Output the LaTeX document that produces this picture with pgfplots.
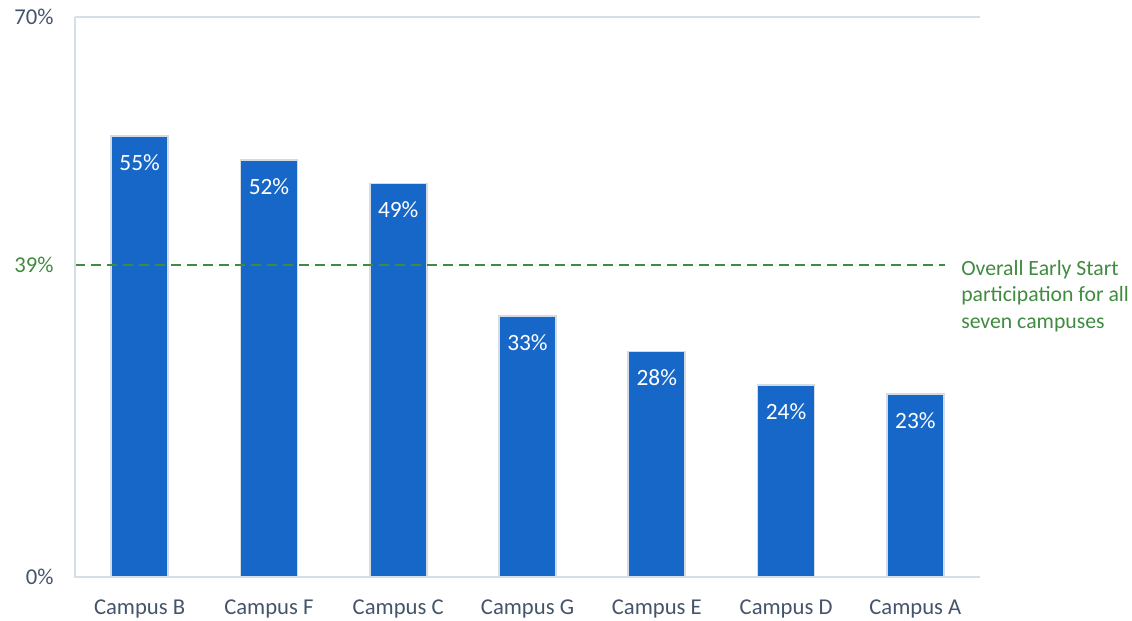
\documentclass[border=0pt]{standalone}
\usepackage{pgfplots}
\pgfplotsset{compat=1.18}
\usepackage{fontspec}
\setmainfont{Carlito}
\definecolor{barblue}{HTML}{1767C8}
\definecolor{baredge}{HTML}{D3DCE5}
\definecolor{axcol}{HTML}{D6DEE6}
\definecolor{txtcol}{HTML}{44546A}
\definecolor{refgreen}{HTML}{3F8B3F}
\begin{document}
\begin{tikzpicture}[x=1pt,y=1pt]
\path[use as bounding box] (-56.25,-33) rectangle ++(849,465.75);
\begin{axis}[
  at={(0,0)}, anchor=south west,
  scale only axis, width=678.75pt, height=420pt,
  xmin=-0.5, xmax=6.5, ymin=0, ymax=70,
  axis line style={draw=none},
  xtick={0,...,6},
  xticklabels={Campus B,Campus F,Campus C,Campus G,Campus E,Campus D,Campus A},
  ytick={0,39,70},
  yticklabels={0\%,\textcolor{refgreen}{39\%},70\%},
  major tick length=0pt,
  tick label style={font=\fontsize{17}{19}\selectfont, text=txtcol},
  xticklabel style={yshift=-13.5pt},
  yticklabel style={xshift=-12.5pt},
  clip=false,
]
\addplot[ybar, bar width=42.75pt, fill=barblue, draw=baredge, line width=1.2pt,
  point meta=explicit symbolic,
  nodes near coords={\pgfplotspointmeta\%},
  every node near coord/.append style={anchor=north, yshift=-10pt, text=white, font=\fontsize{17.5}{19}\selectfont}]
  table[meta=l] {
  x y l
  0 55.1 55
  1 52.1 52
  2 49.2 49
  3 32.6 33
  4 28.2 28
  5 24.0 24
  6 22.9 23
  };
\addplot[refgreen, line width=1.7pt, dash pattern=on 7.5pt off 4.5pt] coordinates {(-0.5,39) (6.23,39)};
\draw[axcol, line width=1pt] (rel axis cs:0,1) -- (rel axis cs:0,0) -- (rel axis cs:1,0);
\draw[axcol, line width=1pt] (rel axis cs:0,1) -- (rel axis cs:1,1);
\node[anchor=north west, inner sep=0pt, align=left, text=refgreen, font=\fontsize{16.3}{19.8}\selectfont]
  at (axis cs:6.353,39.6) {Overall Early Start\\participation for all\\seven campuses};
\end{axis}
\end{tikzpicture}
\end{document}
